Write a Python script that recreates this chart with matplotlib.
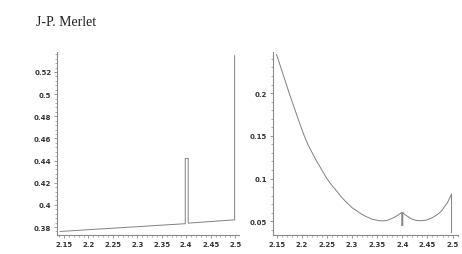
import numpy as np
import matplotlib
matplotlib.use("Agg")
import matplotlib.pyplot as plt
from matplotlib.ticker import MultipleLocator

# Left panel: nearly flat line with two narrow spikes
leftX = [2.142, 2.398, 2.398, 2.404, 2.404, 2.499, 2.499]
leftY = [0.376, 0.383, 0.442, 0.442, 0.3835, 0.3865, 0.5347]

# Right panel: smooth curve with a dip at 2.4 and a drop at 2.5
rightX = [2.15, 2.155, 2.16, 2.165, 2.175, 2.185, 2.195, 2.205, 2.213, 2.22,
          2.228, 2.235, 2.242, 2.25, 2.26, 2.27, 2.278, 2.286, 2.293, 2.30,
          2.31, 2.32, 2.33, 2.34, 2.345, 2.355, 2.362, 2.37, 2.378, 2.385,
          2.392, 2.399, 2.399, 2.401, 2.401, 2.405, 2.41, 2.415, 2.42, 2.428,
          2.438, 2.447, 2.455, 2.462, 2.47, 2.478, 2.485, 2.49, 2.498, 2.498]
rightY = [0.245, 0.236, 0.227, 0.218, 0.200, 0.183, 0.166, 0.150, 0.139, 0.131,
          0.122, 0.115, 0.108, 0.100, 0.092, 0.085, 0.079, 0.074, 0.070, 0.066,
          0.062, 0.058, 0.055, 0.0525, 0.0518, 0.0507, 0.0505, 0.051, 0.053, 0.055,
          0.0575, 0.0605, 0.045, 0.045, 0.0605, 0.058, 0.056, 0.054, 0.0525, 0.051,
          0.0507, 0.0513, 0.053, 0.055, 0.058, 0.062, 0.068, 0.072, 0.082, 0.037]

xTicks = [2.15, 2.2, 2.25, 2.3, 2.35, 2.4, 2.45, 2.5]
xLabels = ['2.15', '2.2', '2.25', '2.3', '2.35', '2.4', '2.45', '2.5']
leftYTicks = [0.38, 0.4, 0.42, 0.44, 0.46, 0.48, 0.5, 0.52]
leftYLabels = ['0.38', '0.4', '0.42', '0.44', '0.46', '0.48', '0.5', '0.52']
rightYTicks = [0.05, 0.1, 0.15, 0.2]
rightYLabels = ['0.05', '0.1', '0.15', '0.2']

lineColor = '#808080'
axisColor = '#8a8a8a'

myFig = plt.figure(figsize=(4.62, 2.55), dpi=100)

leftAx = myFig.add_axes([0.1234, 0.0745, 0.394, 0.7176])
rightAx = myFig.add_axes([0.590, 0.0745, 0.401, 0.7176])


def style_axes(ax, yTicks, yLabels, yMinor):
    for side in ['top', 'right']:
        ax.spines[side].set_visible(False)
    for side in ['left', 'bottom']:
        ax.spines[side].set_color(axisColor)
        ax.spines[side].set_linewidth(0.8)
    ax.set_xticks(xTicks)
    ax.set_xticklabels(xLabels, fontweight='bold')
    ax.set_yticks(yTicks)
    ax.set_yticklabels(yLabels, fontweight='bold')
    ax.xaxis.set_minor_locator(MultipleLocator(0.01))
    ax.yaxis.set_minor_locator(MultipleLocator(yMinor))
    ax.tick_params(which='major', length=2.5, width=0.6, color=axisColor,
                   labelsize=5, labelcolor='#333333', pad=1.5)
    ax.tick_params(which='minor', length=1.3, width=0.5, color=axisColor)
    ax.set_facecolor('none')


leftAx.plot(leftX, leftY, color=lineColor, linewidth=0.7)
leftAx.set_xlim(2.1357, 2.508)
leftAx.set_ylim(0.3728, 0.538)
style_axes(leftAx, leftYTicks, leftYLabels, 0.004)

rightAx.plot(rightX, rightY, color=lineColor, linewidth=0.7)
rightAx.set_xlim(2.142, 2.5105)
rightAx.set_ylim(0.034, 0.248)
style_axes(rightAx, rightYTicks, rightYLabels, 0.01)

myFig.text(0.078, 0.9, 'J-P. Merlet', fontsize=10,
           family='Liberation Serif', color='#222222')

plt.savefig("out.png", dpi=100)
